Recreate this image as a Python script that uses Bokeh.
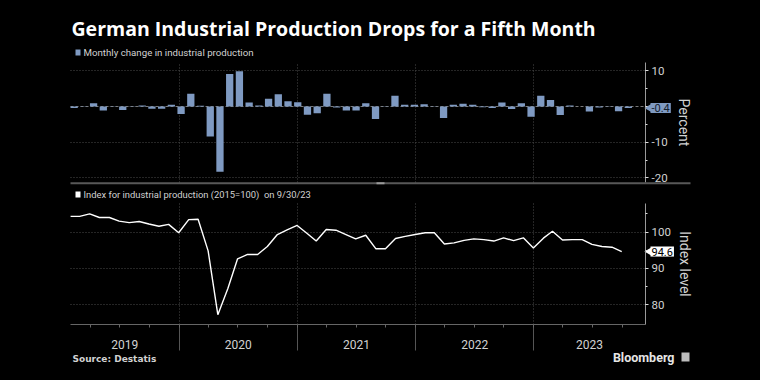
import math
import pandas as pd
from bokeh.plotting import figure
from bokeh.models import Range1d, FixedTicker, Label, BoxAnnotation, Grid, LinearAxis
from bokeh.embed import file_html
from bokeh.resources import INLINE

# ---------------- data ----------------
bar_months = [str(m) for m in pd.period_range("2019-01", "2023-10", freq="M")]
monthly_change = [
    -0.4, -0.1, 0.9, -1.1, -0.1, -1.0, -0.1, 0.3, -0.6, -0.6, 0.5, -2.1,
    3.6, 0.2, -8.4, -18.3, 9.1, 9.9, 1.1, 0.3, 2.2, 3.4, 1.5, 1.2,
    -2.3, -1.9, 3.6, -0.3, -1.1, -1.1, 0.9, -3.5, -0.1, 3.0, 0.5, 0.5,
    0.6, -0.1, -3.2, 0.5, 0.8, 0.5, -0.2, -0.4, 1.1, -0.7, 0.9, -2.9,
    3.0, 1.8, -2.4, 0.3, 0.0, -1.4, -0.3, -0.1, -1.3, -0.4,
]
index_months = [str(m) for m in pd.period_range("2019-01", "2023-09", freq="M")]
index_level = [
    104.3, 104.3, 105.0, 104.0, 104.0, 103.0, 102.6, 102.9, 102.2, 101.6, 102.1, 99.8,
    103.4, 103.5, 94.8, 77.2, 84.4, 92.6, 93.8, 93.8, 96.0, 99.3, 100.6, 101.8,
    99.6, 97.5, 100.7, 100.5, 99.3, 98.1, 99.1, 95.4, 95.4, 98.2, 98.8, 99.3,
    99.8, 99.8, 96.7, 97.0, 97.7, 98.1, 97.9, 97.5, 98.4, 97.6, 98.4, 95.6,
    98.3, 100.2, 97.8, 97.9, 97.9, 96.6, 96.0, 95.8, 94.6,
]
years = ["2019", "2020", "2021", "2022", "2023"]
pct_ticks = [10, -10, -20]
pct_labels = ["10", "-10", "-20"]
pct_minor = [10, 5, 0, -5, -10, -15, -20]
idx_ticks = [100, 90, 80]
idx_labels = ["100", "90", "80"]
idx_minor = [105, 100, 95, 90, 85, 80]
last_change_label = "-0.4"
last_index_label = "94.6"

# ---------------- layout / style ----------------
W, H = 760, 380
FONT = "Roboto"
BG = "#000000"
BAR = "#7f9ac2"
TXT = "#d2d2d2"
GRID = "#4a4a4a"

PANEL_L, PANEL_R = 70, 645          # pixel extent of both panels
ANCHOR = pd.Timestamp("2020-01-01")
ANCHOR_PX, PX_PER_DAY = 178.5, 0.32363
PCT_BOUNDS = (-21.3, 12.3)
IDX_BOUNDS = (74.6, 107.9)


def px_date(px):
    return ANCHOR + pd.Timedelta(days=(px - ANCHOR_PX) / PX_PER_DAY)


def ms(t):
    return float(pd.Timestamp(t).value // 10**6)


def pct_at(py):
    return 10 - (py - 70.3) / 3.57


def idx_at(py):
    return 100 - (py - 231.5) / 3.625


x_lo, x_hi = ms(px_date(PANEL_L)), ms(px_date(PANEL_R))
year_starts = [ms(f"{y}-01-01") for y in years[1:]]
quarter_ticks = [ms(t) for t in pd.date_range("2019-04-01", "2023-10-01", freq="QS")]

# bars are spaced evenly across the panel; the line sits on month ends
bar_x = [pd.Timestamp("2019-02-11") + pd.Timedelta(days=30.04 * i) for i in range(len(monthly_change))]
line_x = [pd.Period(m, freq="M").to_timestamp(how="end").normalize() for m in index_months]

p = figure(width=W, height=H, title=None,
           x_range=Range1d(px_date(0), px_date(W)),
           y_range=Range1d(pct_at(H), pct_at(0)),
           x_axis_type="datetime", x_axis_location=None, y_axis_location=None,
           toolbar_location=None, output_backend="svg", min_border=0,
           background_fill_color=BG, border_fill_color=BG, outline_line_color=None)
p.extra_y_ranges = {"idx": Range1d(idx_at(H), idx_at(0))}
# drop the default full-canvas grids
p.center = [r for r in p.center if not isinstance(r, Grid)]
p.renderers = [r for r in p.renderers if not isinstance(r, Grid)]


def dotted_grid(dim, ticks, cross, rng="default", dash="1 2", color=GRID):
    g = Grid(dimension=dim, ticker=FixedTicker(ticks=ticks), cross_bounds=cross,
             grid_line_color=color, grid_line_dash=dash, grid_line_width=1)
    if rng != "default":
        g.y_range_name = rng
    p.add_layout(g)


dotted_grid(0, year_starts, PCT_BOUNDS)
dotted_grid(1, pct_ticks, (x_lo, x_hi))
dotted_grid(1, [0], (x_lo, x_hi), dash="3 2", color="#7a7a7a")
dotted_grid(0, year_starts, IDX_BOUNDS, rng="idx")
dotted_grid(1, idx_ticks, (x_lo, x_hi), rng="idx")


def right_axis(ticks, labels, minor, bounds, rng="default"):
    ax = LinearAxis(fixed_location=x_hi, bounds=bounds,
                    ticker=FixedTicker(ticks=ticks, minor_ticks=minor),
                    major_label_overrides={t: l for t, l in zip(ticks, labels)})
    if rng != "default":
        ax.y_range_name = rng
    ax.axis_line_color = "#9a9a9a"
    ax.major_tick_line_color = "#dddddd"
    ax.minor_tick_line_color = "#dddddd"
    ax.major_tick_in = 0
    ax.major_tick_out = 3
    ax.minor_tick_in = 0
    ax.minor_tick_out = 2
    ax.major_label_standoff = 3
    ax.major_label_text_font = FONT
    ax.major_label_text_font_size = "11.5px"
    ax.major_label_text_color = TXT
    p.add_layout(ax, "right")


right_axis(pct_ticks, pct_labels, pct_minor, PCT_BOUNDS)
right_axis(idx_ticks, idx_labels, idx_minor, IDX_BOUNDS, rng="idx")

xa = LinearAxis(fixed_location=IDX_BOUNDS[0], y_range_name="idx", bounds=(x_lo, x_hi),
                ticker=FixedTicker(ticks=year_starts, minor_ticks=quarter_ticks),
                major_label_overrides={t: "" for t in year_starts})
xa.axis_line_color = "#666666"
xa.major_tick_line_color = "#555555"
xa.major_tick_in = 0
xa.major_tick_out = 26
xa.minor_tick_line_color = "#666666"
xa.minor_tick_in = 0
xa.minor_tick_out = 3
xa.major_label_text_font_size = "0px"
p.add_layout(xa, "below")

# ---------------- marks ----------------
p.vbar(x=bar_x, top=monthly_change, bottom=0, width=22.5 * 86400000,
       fill_color=BAR, line_color=None)
p.line(x=line_x, y=index_level, y_range_name="idx", line_color="#ffffff", line_width=1.4)

# ---------------- texts ----------------
def lab(px, py, text, size, color, bold=False, align="left", angle=0.0, font=FONT):
    p.add_layout(Label(x=px, y=H - py, x_units="screen", y_units="screen", text=text,
                       text_font=font, text_font_size=f"{size}px", text_color=color,
                       text_font_style=("bold" if bold else "normal"),
                       text_align=align, text_baseline="middle", angle=angle))


def box(l, r, t, b, color):
    p.add_layout(BoxAnnotation(left=l, right=r, top=H - t, bottom=H - b,
                               left_units="screen", right_units="screen",
                               top_units="screen", bottom_units="screen",
                               fill_color=color, fill_alpha=1, line_color=None))


lab(71, 28, "German Industrial Production Drops for a Fifth Month", 19.5, "#ffffff",
    bold=True, font="Open Sans")
box(75, 80, 49, 55, BAR)
lab(83, 52, "Monthly change in industrial production", 9.7, TXT)
box(70, 690, 181.7, 183.7, "#585858")
box(376, 384, 181.7, 183.7, "#9a9a9a")
box(75, 80, 191, 197, "#ffffff")
lab(83, 194, "Index for industrial production (2015=100)\u00a0 on 9/30/23", 9.4, TXT)

lab(683, 122, "Percent", 14, TXT, align="center", angle=-math.pi / 2)
lab(684, 263.5, "Index level", 14, TXT, align="center", angle=-math.pi / 2)

bounds = [x_lo] + year_starts + [x_hi]
for i, y in enumerate(years):
    p.add_layout(Label(x=(bounds[i] + bounds[i + 1]) / 2, y=H - 344, y_units="screen",
                       text=y, text_font=FONT, text_font_size="12px", text_color=TXT,
                       text_align="center", text_baseline="middle"))

lab(72, 358, "Source: Destatis", 9, TXT, bold=True, font="DejaVu Sans")
lab(674, 357, "Bloomberg", 12.5, "#e6e6e6", bold=True, align="right")
box(681, 689, 352, 361, "#bdbdbd")

# value tags on the right axes
tag_x = px_date(648.5)
p.scatter(x=[tag_x], y=[monthly_change[-1]], marker="triangle", angle=math.pi / 2,
          size=8, fill_color=BAR, line_color=None)
p.add_layout(Label(x=650, y=monthly_change[-1], x_units="screen", text=last_change_label,
                   text_font=FONT, text_font_size="11px", text_color="#14202e",
                   text_baseline="middle", background_fill_color=BAR, padding=1))
p.scatter(x=[tag_x], y=[index_level[-1]], y_range_name="idx", marker="triangle",
          angle=math.pi / 2, size=8, fill_color="#ffffff", line_color=None)
p.add_layout(Label(x=650, y=index_level[-1], y_range_name="idx", x_units="screen",
                   text=last_index_label, text_font=FONT, text_font_size="11px",
                   text_color="#000000", text_baseline="middle",
                   background_fill_color="#ffffff", padding=1))

html = file_html(p, INLINE)
html = html.replace("</head>", "<style>html,body{background:#000000;}</style></head>")
open("out.html", "w").write(html)
